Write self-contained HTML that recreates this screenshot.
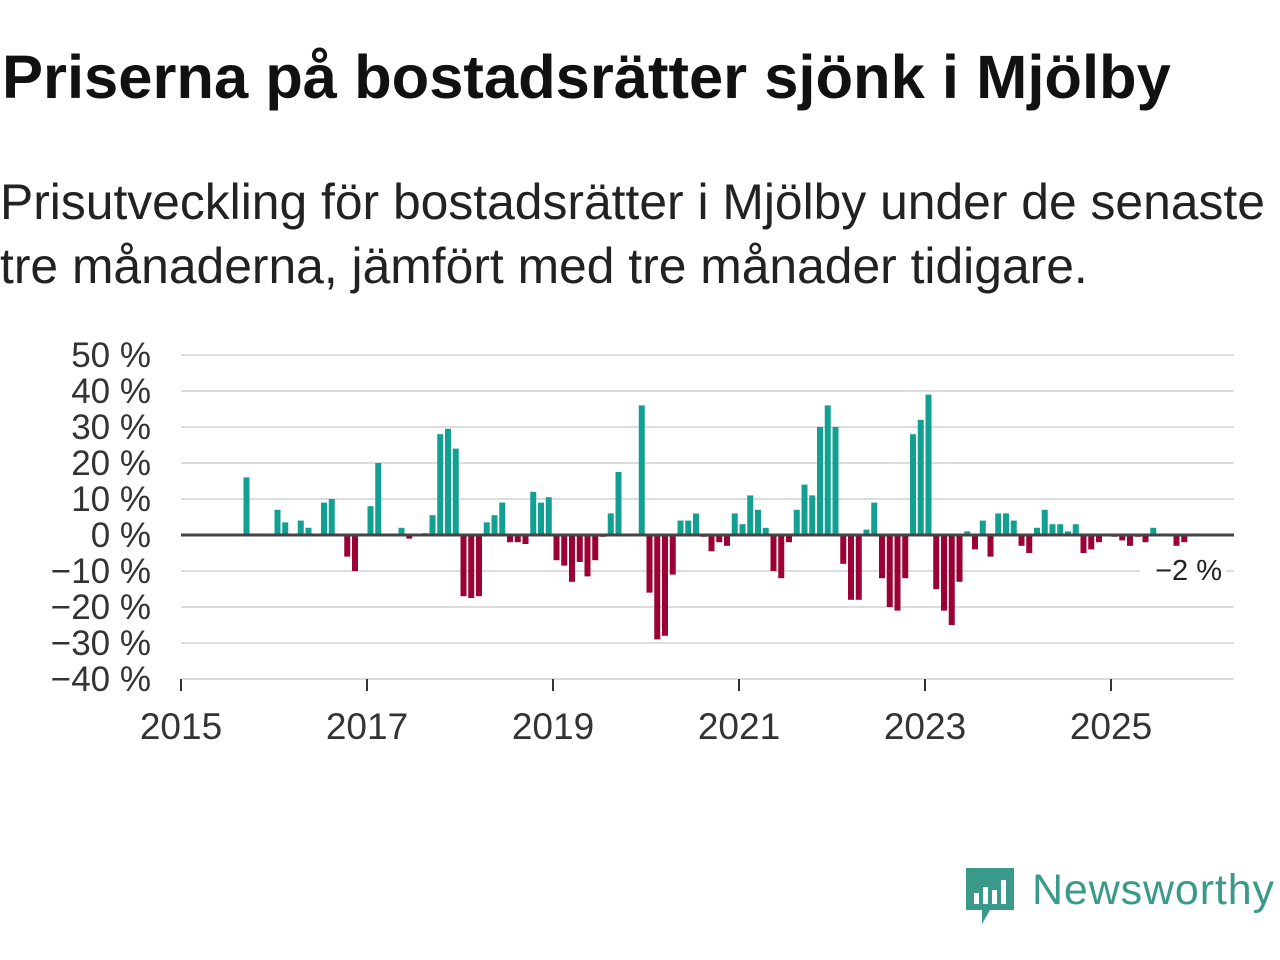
<!DOCTYPE html>
<html><head><meta charset="utf-8">
<style>
body{margin:0;width:1280px;height:960px;background:#fff;font-family:"Liberation Sans",sans-serif;overflow:hidden;position:relative}
h1{position:absolute;left:2px;top:40px;margin:0;font-size:61.5px;font-weight:bold;color:#111;line-height:76px;white-space:nowrap}
p{position:absolute;left:0;top:170px;margin:0;font-size:49.8px;line-height:64px;color:#222;width:1280px;white-space:nowrap}
svg{position:absolute;left:0;top:0}
</style></head><body>
<h1>Priserna på bostadsrätter sjönk i Mjölby</h1>
<p>Prisutveckling för bostadsrätter i Mjölby under de senaste<br>tre månaderna, jämfört med tre månader tidigare.</p>
<svg id="chart" width="1280" height="960"></svg>
<script>
const barIndex=[8,12,13,15,16,18,19,21,22,24,25,28,29,31,32,33,34,35,36,37,38,39,40,41,42,43,44,45,46,47,48,49,50,51,52,53,54,55,56,59,60,61,62,63,64,65,66,67,68,69,70,71,72,73,74,75,76,77,78,79,80,81,82,83,84,85,86,87,88,89,90,91,92,93,94,95,96,97,98,99,100,101,102,103,104,105,106,107,108,109,110,111,112,113,114,115,116,117,118,120,121,122,123,124,125,128,129];
const barValues=[16,7,3.5,4,2,9,10,-6,-10,8,20,2,-1,0.5,5.5,28,29.5,24,-17,-17.5,-17,3.5,5.5,9,-2,-2,-2.5,12,9,10.5,-7,-8.5,-13,-7.5,-11.5,-7,-0.5,6,17.5,36,-16,-29,-28,-11,4,4,6,-0.5,-4.5,-2,-3,6,3,11,7,2,-10,-12,-2,7,14,11,30,36,30,-8,-18,-18,1.5,9,-12,-20,-21,-12,28,32,39,-15,-21,-25,-13,1,-4,4,-6,6,6,4,-3,-5,2,7,3,3,1,3,-5,-4,-2,-0.5,-1.5,-3,-0.5,-2,2,-3,-2];
const yTicks=[50,40,30,20,10,0,-10,-20,-30,-40];
const xTicks=[2015,2017,2019,2021,2023,2025];
const lastLabel="−2 %";
const NS="http://www.w3.org/2000/svg";
const svg=document.getElementById('chart');
const x0=181,x1=1234,mPx=7.75;
const xYear=y=>x0+(y-2015)*12*mPx;
const xIdx=i=>184.5+i*mPx;
const yv=v=>535-v*3.6;
function mk(t,a){const e=document.createElementNS(NS,t);for(const k in a)e.setAttribute(k,a[k]);svg.appendChild(e);return e;}
yTicks.forEach(t=>{
 const g=mk('line',{x1:x0,x2:x1,y1:yv(t),y2:yv(t),stroke:'#ddd','stroke-width':2});
 
 
 const l=mk('text',{x:151,y:yv(t)+12,'text-anchor':'end','font-size':35,fill:'#333','font-family':'Liberation Sans, sans-serif'});
 l.textContent=(t<0?'−'+(-t):t)+' %';
 
 
});
barIndex.forEach((idx,k)=>{
 const v=barValues[k];
 const b=mk('rect',{x:xIdx(idx)-3,width:6,y:Math.min(yv(v),535),height:Math.abs(yv(v)-535),fill:v>=0?'#11a091':'#9c0136'});
 
 
});
const z=mk('line',{x1:x0,x2:x1,y1:535,y2:535,stroke:'#444','stroke-width':3});


const ax=mk('line',{x1:x0,x2:x1,y1:679,y2:679,stroke:'#ddd','stroke-width':2});


xTicks.forEach(t=>{
 const tk=mk('line',{x1:xYear(t),x2:xYear(t),y1:679,y2:691,stroke:'#333','stroke-width':2});
 
 
 const l=mk('text',{x:xYear(t),y:739,'text-anchor':'middle','font-size':37,fill:'#333','font-family':'Liberation Sans, sans-serif'});
 l.textContent=t;
 
 
});
const bg=mk('rect',{x:1140,y:552,width:86,height:36,fill:'#fff'});


const lv=mk('text',{x:1222,y:580,'text-anchor':'end','font-size':29,fill:'#222','font-family':'Liberation Sans, sans-serif'});
lv.textContent=lastLabel;


</script>
<svg width="1280" height="960" style="position:absolute;left:0;top:0">
<path d="M966 868 h48 v42 h-24 l-8 14 v-14 h-16 z" fill="#3a9a8a"/>
<rect x="974" y="893" width="5" height="11" fill="#fff"/><rect x="983" y="887" width="5" height="17" fill="#fff"/><rect x="992" y="890" width="5" height="14" fill="#fff"/><rect x="1001" y="880" width="5" height="24" fill="#fff"/>
<text x="1032" y="904" font-size="43" fill="#3a9a8a" font-family="Liberation Sans, sans-serif" textLength="242">Newsworthy</text>
</svg>
</body></html>
